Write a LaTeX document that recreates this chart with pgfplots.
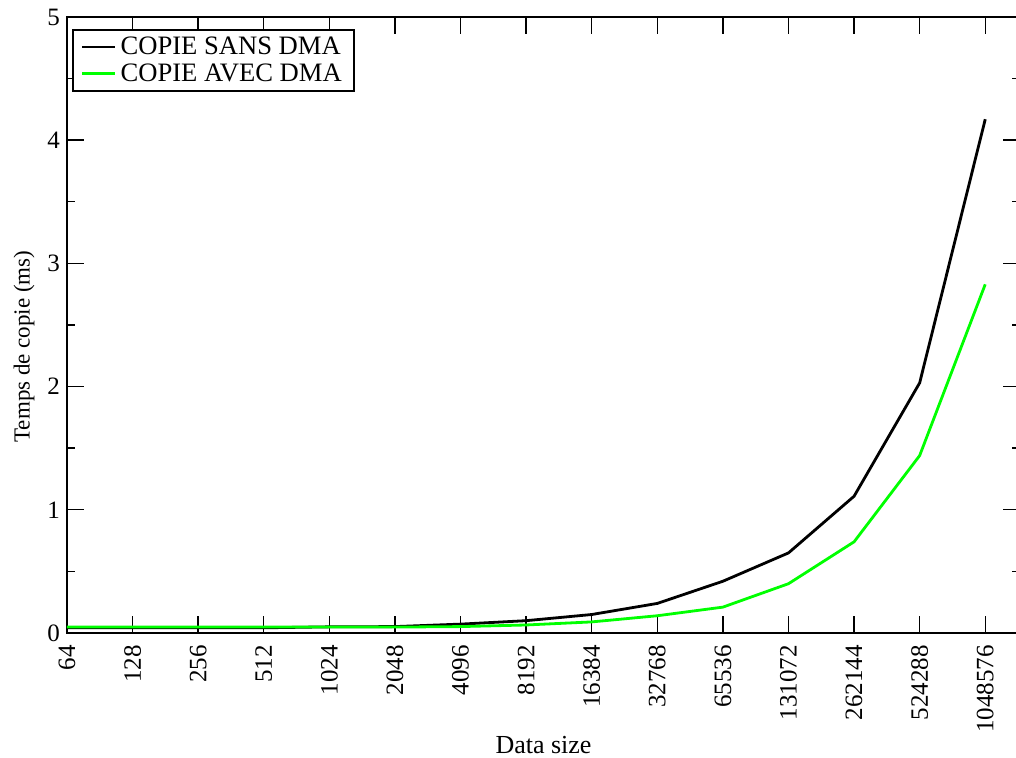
\documentclass[border=0pt]{standalone}
\usepackage{pgfplots}
\pgfplotsset{compat=1.18}
\usepackage{fontspec}
\setmainfont{Liberation Serif}
\definecolor{pgreen}{RGB}{0,255,0}
\begin{document}
\begin{tikzpicture}
\begin{axis}[
  scale only axis, width=476.5pt, height=308pt,
  xmin=0, xmax=14.53, ymin=0, ymax=5,
  xtick={0,...,14},
  xticklabels={64,128,256,512,1024,2048,4096,8192,16384,32768,65536,131072,262144,524288,1048576},
  xticklabel style={rotate=90, anchor=east, xshift=-2.5pt, font=\fontsize{12.5}{14}\selectfont},
  ytick={0,1,2,3,4,5},
  minor ytick={0.5,1.5,2.5,3.5,4.5},
  yticklabel style={font=\fontsize{12.5}{14}\selectfont},
  /pgf/number format/assume math mode=true,
  tick align=inside,
  major tick length=8.5pt, minor tick length=4pt,
  axis line style={line width=1pt},
  every tick/.style={black, line width=0.7pt},
  xlabel={Data size},
  ylabel={Temps de copie (ms)},
  xlabel style={at={(axis description cs:0.5,0)}, anchor=center, yshift=-56pt, font=\fontsize{13}{15}\selectfont},
  ylabel style={at={(axis description cs:0,0.465)}, anchor=center, yshift=21.5pt, font=\fontsize{11.5}{14}\selectfont},
  legend style={at={(0,1)}, anchor=north west, xshift=2.5pt, yshift=-6pt, draw=black, line width=0.8pt,
    font=\fontsize{13.3}{14}\selectfont, inner xsep=4pt, inner ysep=1.5pt, row sep=-1pt},
  legend cell align=left,
  legend image code/.code={\draw[#1, line width=1.4pt] (0pt,0pt) -- (10.5pt,0pt); \path (0pt,0pt) -- (16.5pt,0pt);},
]
\addplot[black, line width=1.4pt] coordinates {
 (0,0.042) (1,0.042) (2,0.042) (3,0.042) (4,0.05) (5,0.052) (6,0.072) (7,0.10) (8,0.15) (9,0.24) (10,0.42) (11,0.65) (12,1.11) (13,2.03) (14,4.17)
};
\addlegendentry{COPIE SANS DMA}
\addplot[pgreen, line width=1.4pt] coordinates {
 (0,0.048) (1,0.048) (2,0.048) (3,0.048) (4,0.048) (5,0.048) (6,0.052) (7,0.065) (8,0.09) (9,0.14) (10,0.21) (11,0.40) (12,0.74) (13,1.44) (14,2.83)
};
\addlegendentry{COPIE AVEC DMA}
\coordinate (bl) at (rel axis cs:0,0);
\coordinate (tr) at (rel axis cs:1,1);
\end{axis}
\pgfresetboundingbox
\path ([shift={(-33.5pt,-62.5pt)}]bl) rectangle ([shift={(-2pt,8.5pt)}]tr);
\end{tikzpicture}
\end{document}
